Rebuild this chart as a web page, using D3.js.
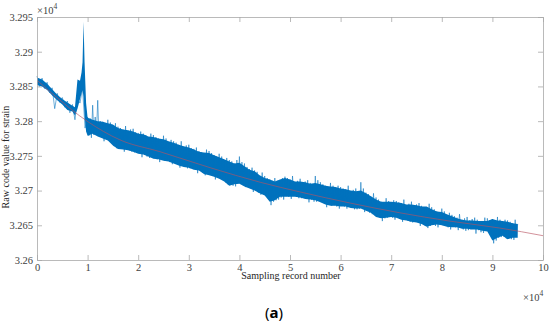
<!DOCTYPE html>
<html>
<head>
<meta charset="utf-8">
<script src="https://cdn.jsdelivr.net/npm/d3@7"></script>
<style>
  body { margin: 0; background: #fff; }
</style>
</head>
<body>
<script>
// Chart size
let svgWidth = 550;
let svgHeight = 331;
let margin = { top: 17, right: 7, bottom: 71, left: 37 };
let chartWidth = svgWidth - margin.left - margin.right;
let chartHeight = svgHeight - margin.top - margin.bottom;
let serif = "'Liberation Serif', 'Times New Roman', serif";

// Data (x in units of 1e4 records, y in units of 1e4 raw code)
// solid core of the recorded band
let recX = [0, 0.1, 0.2, 0.3, 0.4, 0.5, 0.6, 0.7, 0.75, 0.8, 0.85, 0.88, 0.9, 0.92, 0.94, 0.97,
  1.0, 1.1, 1.2, 1.3, 1.4, 1.5, 1.6, 1.7, 1.8, 1.9,
  2.0, 2.1, 2.2, 2.3, 2.4, 2.5, 2.6, 2.7, 2.8, 2.9,
  3.0, 3.1, 3.2, 3.3, 3.4, 3.5, 3.6, 3.7, 3.8, 3.9,
  4.0, 4.1, 4.2, 4.3, 4.4, 4.5, 4.6, 4.7, 4.8, 4.9,
  5.0, 5.1, 5.2, 5.3, 5.4, 5.5, 5.6, 5.7, 5.8, 5.9,
  6.0, 6.1, 6.2, 6.3, 6.4, 6.5, 6.6, 6.7, 6.8, 6.9,
  7.0, 7.1, 7.2, 7.3, 7.4, 7.5, 7.6, 7.7, 7.8, 7.9,
  8.0, 8.1, 8.2, 8.3, 8.4, 8.5, 8.6, 8.7, 8.8, 8.9,
  9.0, 9.1, 9.2, 9.3, 9.4, 9.5];
let coreHigh = [3.2863, 3.2860, 3.2854, 3.2846, 3.2838, 3.2832, 3.2827, 3.2822, 3.2820, 3.2860, 3.2858, 3.2870, 3.2885, 3.2943, 3.2885, 3.2826,
  3.2805, 3.2802, 3.2800, 3.2799, 3.2797, 3.2795, 3.2790, 3.2788, 3.2787, 3.2785,
  3.2782, 3.2781, 3.2778, 3.2777, 3.2775, 3.2774, 3.2771, 3.2769, 3.2766, 3.2764,
  3.2762, 3.2759, 3.2756, 3.2755, 3.2754, 3.2751, 3.2748, 3.2745, 3.2742, 3.2739,
  3.2740, 3.2735, 3.2730, 3.2728, 3.2722, 3.2718, 3.2716, 3.2713, 3.2716, 3.2718,
  3.2716, 3.2713, 3.2713, 3.2712, 3.2710, 3.2711, 3.2709, 3.2707, 3.2706, 3.2705,
  3.2703, 3.2702, 3.2700, 3.2699, 3.2700, 3.2696, 3.2692, 3.2687, 3.2684, 3.2684,
  3.2684, 3.2683, 3.2682, 3.2680, 3.2680, 3.2679, 3.2677, 3.2677, 3.2673, 3.2670,
  3.2669, 3.2666, 3.2663, 3.2660, 3.2658, 3.2657, 3.2657, 3.2656, 3.2656, 3.2656,
  3.2659, 3.2657, 3.2656, 3.2655, 3.2653, 3.2652];
let coreLow = [3.2852, 3.2850, 3.2845, 3.2837, 3.2830, 3.2824, 3.2816, 3.2814, 3.2808, 3.2818, 3.2832, 3.2840, 3.2845, 3.2835, 3.2808, 3.2785,
  3.2779, 3.2782, 3.2778, 3.2775, 3.2772, 3.2765, 3.2760, 3.2759, 3.2758, 3.2756,
  3.2753, 3.2752, 3.2749, 3.2746, 3.2745, 3.2743, 3.2742, 3.2739, 3.2736, 3.2734,
  3.2733, 3.2730, 3.2729, 3.2724, 3.2722, 3.2720, 3.2717, 3.2713, 3.2707, 3.2709,
  3.2710, 3.2706, 3.2703, 3.2700, 3.2696, 3.2693, 3.2684, 3.2686, 3.2691, 3.2691,
  3.2691, 3.2691, 3.2690, 3.2688, 3.2687, 3.2686, 3.2683, 3.2680, 3.2678, 3.2678,
  3.2677, 3.2677, 3.2675, 3.2674, 3.2674, 3.2671, 3.2668, 3.2662, 3.2660, 3.2661,
  3.2662, 3.2661, 3.2658, 3.2657, 3.2655, 3.2654, 3.2652, 3.2648, 3.2650, 3.2651,
  3.2650, 3.2648, 3.2647, 3.2647, 3.2645, 3.2645, 3.2644, 3.2644, 3.2642, 3.2641,
  3.2628, 3.2632, 3.2635, 3.2630, 3.2632, 3.2632];

// noise extremes of the raw trace [record, value]
let noisePoints = [
  [0.00, 3.2865], [0.05, 3.2850], [0.10, 3.2862], [0.15, 3.2847], [0.20, 3.2856], [0.25, 3.2841], [0.30, 3.2848], [0.35, 3.2818],
  [0.40, 3.2840], [0.45, 3.2827], [0.50, 3.2834], [0.55, 3.2820], [0.60, 3.2829], [0.65, 3.2812], [0.70, 3.2824], [0.75, 3.2802],
  [0.80, 3.2832], [0.85, 3.2826], [0.90, 3.2848], [0.95, 3.2790], [0.975, 3.2800],
  [1.000, 3.2806], [1.025, 3.2779], [1.050, 3.2804], [1.075, 3.2776],
  [1.100, 3.2823], [1.125, 3.2780], [1.150, 3.2806], [1.175, 3.2783],
  [1.200, 3.2830], [1.225, 3.2779], [1.250, 3.2800], [1.275, 3.2777],
  [1.300, 3.2799], [1.325, 3.2771], [1.350, 3.2797], [1.375, 3.2775],
  [1.400, 3.2802], [1.425, 3.2772], [1.450, 3.2798], [1.475, 3.2773],
  [1.500, 3.2793], [1.525, 3.2764], [1.550, 3.2797], [1.575, 3.2761],
  [1.600, 3.2792], [1.625, 3.2761], [1.650, 3.2790], [1.675, 3.2760],
  [1.700, 3.2788], [1.725, 3.2756], [1.750, 3.2793], [1.775, 3.2761],
  [1.800, 3.2786], [1.825, 3.2758], [1.850, 3.2788], [1.875, 3.2756],
  [1.900, 3.2789], [1.925, 3.2755], [1.950, 3.2784], [1.975, 3.2756],
  [2.000, 3.2783], [2.025, 3.2755], [2.050, 3.2785], [2.075, 3.2748],
  [2.100, 3.2782], [2.125, 3.2752], [2.150, 3.2780], [2.175, 3.2749],
  [2.200, 3.2777], [2.225, 3.2747], [2.250, 3.2782], [2.275, 3.2750],
  [2.300, 3.2780], [2.325, 3.2747], [2.350, 3.2777], [2.375, 3.2745],
  [2.400, 3.2775], [2.425, 3.2741], [2.450, 3.2773], [2.475, 3.2745],
  [2.500, 3.2779], [2.525, 3.2743], [2.550, 3.2775], [2.575, 3.2744],
  [2.600, 3.2769], [2.625, 3.2741], [2.650, 3.2773], [2.675, 3.2738],
  [2.700, 3.2771], [2.725, 3.2740], [2.750, 3.2769], [2.775, 3.2739],
  [2.800, 3.2766], [2.825, 3.2733], [2.850, 3.2771], [2.875, 3.2738],
  [2.900, 3.2763], [2.925, 3.2734], [2.950, 3.2765], [2.975, 3.2732],
  [3.000, 3.2766], [3.025, 3.2732], [3.050, 3.2761], [3.075, 3.2733],
  [3.100, 3.2760], [3.125, 3.2732], [3.150, 3.2762], [3.175, 3.2725],
  [3.200, 3.2757], [3.225, 3.2729], [3.250, 3.2755], [3.275, 3.2726],
  [3.300, 3.2754], [3.325, 3.2722], [3.350, 3.2759], [3.375, 3.2725],
  [3.400, 3.2757], [3.425, 3.2723], [3.450, 3.2754], [3.475, 3.2721],
  [3.500, 3.2751], [3.525, 3.2716], [3.550, 3.2749], [3.575, 3.2720],
  [3.600, 3.2753], [3.625, 3.2717], [3.650, 3.2749], [3.675, 3.2718],
  [3.700, 3.2743], [3.725, 3.2712], [3.750, 3.2747], [3.775, 3.2709],
  [3.800, 3.2744], [3.825, 3.2708], [3.850, 3.2742], [3.875, 3.2707],
  [3.900, 3.2739], [3.925, 3.2706], [3.950, 3.2744], [3.975, 3.2711],
  [4.000, 3.2749], [4.025, 3.2710], [4.050, 3.2741], [4.075, 3.2708],
  [4.100, 3.2739], [4.125, 3.2705], [4.150, 3.2734], [4.175, 3.2706],
  [4.200, 3.2731], [4.225, 3.2705], [4.250, 3.2733], [4.275, 3.2698],
  [4.300, 3.2729], [4.325, 3.2700], [4.350, 3.2727], [4.375, 3.2697],
  [4.400, 3.2721], [4.425, 3.2694], [4.450, 3.2726], [4.475, 3.2697],
  [4.500, 3.2721], [4.525, 3.2694], [4.550, 3.2718], [4.575, 3.2692],
  [4.600, 3.2716], [4.625, 3.2679], [4.650, 3.2714], [4.675, 3.2684],
  [4.700, 3.2718], [4.725, 3.2686], [4.750, 3.2714], [4.775, 3.2687],
  [4.800, 3.2714], [4.825, 3.2690], [4.850, 3.2718], [4.875, 3.2687],
  [4.900, 3.2720], [4.925, 3.2692], [4.950, 3.2718], [4.975, 3.2691],
  [5.000, 3.2716], [5.025, 3.2688], [5.050, 3.2721], [5.075, 3.2693],
  [5.100, 3.2712], [5.125, 3.2691], [5.150, 3.2714], [5.175, 3.2689],
  [5.200, 3.2717], [5.225, 3.2689], [5.250, 3.2712], [5.275, 3.2690],
  [5.300, 3.2713], [5.325, 3.2690], [5.350, 3.2715], [5.375, 3.2683],
  [5.400, 3.2711], [5.425, 3.2687], [5.450, 3.2709], [5.475, 3.2684],
  [5.500, 3.2721], [5.525, 3.2684], [5.550, 3.2715], [5.575, 3.2687],
  [5.600, 3.2712], [5.625, 3.2684], [5.650, 3.2709], [5.675, 3.2682],
  [5.700, 3.2707], [5.725, 3.2676], [5.750, 3.2705], [5.775, 3.2680],
  [5.800, 3.2711], [5.825, 3.2678], [5.850, 3.2707], [5.875, 3.2679],
  [5.900, 3.2703], [5.925, 3.2677], [5.950, 3.2707], [5.975, 3.2674],
  [6.000, 3.2705], [6.025, 3.2678], [6.050, 3.2703], [6.075, 3.2677],
  [6.100, 3.2702], [6.125, 3.2674], [6.150, 3.2707], [6.175, 3.2679],
  [6.200, 3.2699], [6.225, 3.2675], [6.250, 3.2701], [6.275, 3.2673],
  [6.300, 3.2703], [6.325, 3.2673], [6.350, 3.2698], [6.375, 3.2674],
  [6.400, 3.2712], [6.425, 3.2676], [6.450, 3.2703], [6.475, 3.2669],
  [6.500, 3.2697], [6.525, 3.2671], [6.550, 3.2695], [6.575, 3.2668],
  [6.600, 3.2691], [6.625, 3.2666], [6.650, 3.2696], [6.675, 3.2669],
  [6.700, 3.2690], [6.725, 3.2663], [6.750, 3.2687], [6.775, 3.2661],
  [6.800, 3.2684], [6.825, 3.2656], [6.850, 3.2682], [6.875, 3.2660],
  [6.900, 3.2689], [6.925, 3.2661], [6.950, 3.2685], [6.975, 3.2662],
  [7.000, 3.2682], [7.025, 3.2661], [7.050, 3.2686], [7.075, 3.2658],
  [7.100, 3.2685], [7.125, 3.2662], [7.150, 3.2683], [7.175, 3.2661],
  [7.200, 3.2682], [7.225, 3.2655], [7.250, 3.2687], [7.275, 3.2660],
  [7.300, 3.2679], [7.325, 3.2657], [7.350, 3.2681], [7.375, 3.2655],
  [7.400, 3.2684], [7.425, 3.2654], [7.450, 3.2679], [7.475, 3.2655],
  [7.500, 3.2680], [7.525, 3.2656], [7.550, 3.2682], [7.575, 3.2649],
  [7.600, 3.2678], [7.625, 3.2652], [7.650, 3.2676], [7.675, 3.2649],
  [7.700, 3.2676], [7.725, 3.2646], [7.750, 3.2681], [7.775, 3.2649],
  [7.800, 3.2676], [7.825, 3.2651], [7.850, 3.2673], [7.875, 3.2649],
  [7.900, 3.2670], [7.925, 3.2647], [7.950, 3.2668], [7.975, 3.2651],
  [8.000, 3.2674], [8.025, 3.2650], [8.050, 3.2670], [8.075, 3.2651],
  [8.100, 3.2664], [8.125, 3.2647], [8.150, 3.2668], [8.175, 3.2644],
  [8.200, 3.2665], [8.225, 3.2648], [8.250, 3.2663], [8.275, 3.2647],
  [8.300, 3.2661], [8.325, 3.2643], [8.350, 3.2666], [8.375, 3.2648],
  [8.400, 3.2658], [8.425, 3.2644], [8.450, 3.2660], [8.475, 3.2642],
  [8.500, 3.2662], [8.525, 3.2643], [8.550, 3.2657], [8.575, 3.2644],
  [8.600, 3.2659], [8.625, 3.2645], [8.650, 3.2661], [8.675, 3.2638],
  [8.700, 3.2658], [8.725, 3.2643], [8.750, 3.2656], [8.775, 3.2640],
  [8.800, 3.2656], [8.825, 3.2639], [8.850, 3.2661], [8.875, 3.2642],
  [8.900, 3.2660], [8.925, 3.2641], [8.950, 3.2657], [8.975, 3.2639],
  [9.000, 3.2659], [9.025, 3.2624], [9.050, 3.2657], [9.075, 3.2628],
  [9.100, 3.2662], [9.125, 3.2632], [9.150, 3.2658], [9.175, 3.2633],
  [9.200, 3.2654], [9.225, 3.2634], [9.250, 3.2658], [9.275, 3.2631],
  [9.300, 3.2657], [9.325, 3.2631], [9.350, 3.2655], [9.375, 3.2630],
  [9.400, 3.2653], [9.425, 3.2629], [9.450, 3.2658], [9.475, 3.2634],
  [9.500, 3.2652]
];

// Fitted trend line
let fitX = [0, 0.36, 0.99, 1.64, 2.43, 3.42, 4.41, 5.2, 6.19, 7.17, 8.16, 9.15, 10];
let fitY = [3.2859, 3.2836, 3.2800, 3.2773, 3.2756, 3.2733, 3.2712, 3.2698, 3.2682, 3.2668, 3.2656, 3.2646, 3.2635];
let xTicks = [0, 1, 2, 3, 4, 5, 6, 7, 8, 9, 10];
let yTicks = [3.26, 3.265, 3.27, 3.275, 3.28, 3.285, 3.29, 3.295];

// SVG wrapper
let svg = d3.select("body").append("svg")
  .attr("width", svgWidth)
  .attr("height", svgHeight);
let chartGroup = svg.append("g")
  .attr("transform", `translate(${margin.left}, ${margin.top})`);

let xScale = d3.scaleLinear().domain([0, 10]).range([0, chartWidth]);
let yScale = d3.scaleLinear().domain([3.26, 3.295]).range([chartHeight, 0]);

// solid band
let band = recX.map((x, i) => ({ x: x, hi: coreHigh[i], lo: coreLow[i] }));
chartGroup.append("path")
  .datum(band)
  .attr("fill", "#0072BD")
  .attr("d", d3.area().x(d => xScale(d.x)).y0(d => yScale(d.lo)).y1(d => yScale(d.hi)));

// noisy spikes around the band
chartGroup.append("path")
  .datum(noisePoints)
  .attr("fill", "none")
  .attr("stroke", "#0072BD")
  .attr("stroke-opacity", 0.8)
  .attr("stroke-width", 0.7)
  .attr("d", d3.line().x(d => xScale(d[0])).y(d => yScale(d[1])));

// trend line
chartGroup.append("path")
  .datum(fitX.map((x, i) => [x, fitY[i]]))
  .attr("fill", "none")
  .attr("stroke", "#b8525f")
  .attr("stroke-opacity", 0.9)
  .attr("stroke-width", 0.7)
  .attr("d", d3.line().curve(d3.curveMonotoneX).x(d => xScale(d[0])).y(d => yScale(d[1])));

// axes (MATLAB style box, ticks inside)
let axisColor = "#a8a8a8";
let labelColor = "#404040";
let xAxis = d3.axisBottom(xScale).tickValues(xTicks).tickSizeInner(-5).tickSizeOuter(0).tickPadding(4).tickFormat(d3.format("d"));
let yAxis = d3.axisLeft(yScale).tickValues(yTicks).tickSizeInner(-5).tickSizeOuter(0).tickPadding(4)
  .tickFormat(d => [3.26, 3.27, 3.28, 3.29].includes(d) ? d3.format(".2f")(d) : d3.format(".3f")(d));
let xTop = d3.axisTop(xScale).tickValues(xTicks).tickSizeInner(-5).tickSizeOuter(0).tickFormat("");
let yRight = d3.axisRight(yScale).tickValues(yTicks).tickSizeInner(-5).tickSizeOuter(0).tickFormat("");

chartGroup.append("g").attr("class", "x-axis").attr("transform", `translate(0, ${chartHeight})`).call(xAxis);
chartGroup.append("g").attr("class", "y-axis").call(yAxis);
chartGroup.append("g").attr("class", "x-top").call(xTop);
chartGroup.append("g").attr("class", "y-right").attr("transform", `translate(${chartWidth}, 0)`).call(yRight);

chartGroup.selectAll("g").attr("font-family", serif).attr("font-size", 10.5);
chartGroup.selectAll(".domain, .tick line").attr("stroke", axisColor).attr("stroke-width", 0.8);
chartGroup.selectAll(".tick text").attr("fill", labelColor);

// exponent labels
let expTop = chartGroup.append("text").attr("x", 0).attr("y", -3)
  .attr("fill", labelColor).attr("font-family", serif).attr("font-size", 10.5);
expTop.append("tspan").text("\u00d710");
expTop.append("tspan").attr("dy", -5).attr("font-size", 7.5).text("4");
let expBottom = chartGroup.append("text").attr("x", chartWidth - 20).attr("y", chartHeight + 41)
  .attr("fill", labelColor).attr("font-family", serif).attr("font-size", 10.5);
expBottom.append("tspan").text("\u00d710");
expBottom.append("tspan").attr("dy", -5).attr("font-size", 7.5).text("4");

// axis titles
chartGroup.append("text")
  .attr("x", 254).attr("y", chartHeight + 19)
  .attr("text-anchor", "middle").attr("fill", "#262626")
  .attr("font-family", serif).attr("font-size", 10)
  .text("Sampling record number");
chartGroup.append("text")
  .attr("transform", `translate(-28, 140) rotate(-90)`)
  .attr("text-anchor", "middle").attr("fill", "#262626")
  .attr("font-family", serif).attr("font-size", 10)
  .text("Raw code value for strain");

// panel caption
svg.append("text")
  .attr("x", 274).attr("y", 318)
  .attr("text-anchor", "middle").attr("fill", "#000")
  .attr("font-family", "'Noto Sans', sans-serif").attr("font-size", 15)
  .html("(<tspan font-weight='bold'>a</tspan>)");
</script>
</body>
</html>
